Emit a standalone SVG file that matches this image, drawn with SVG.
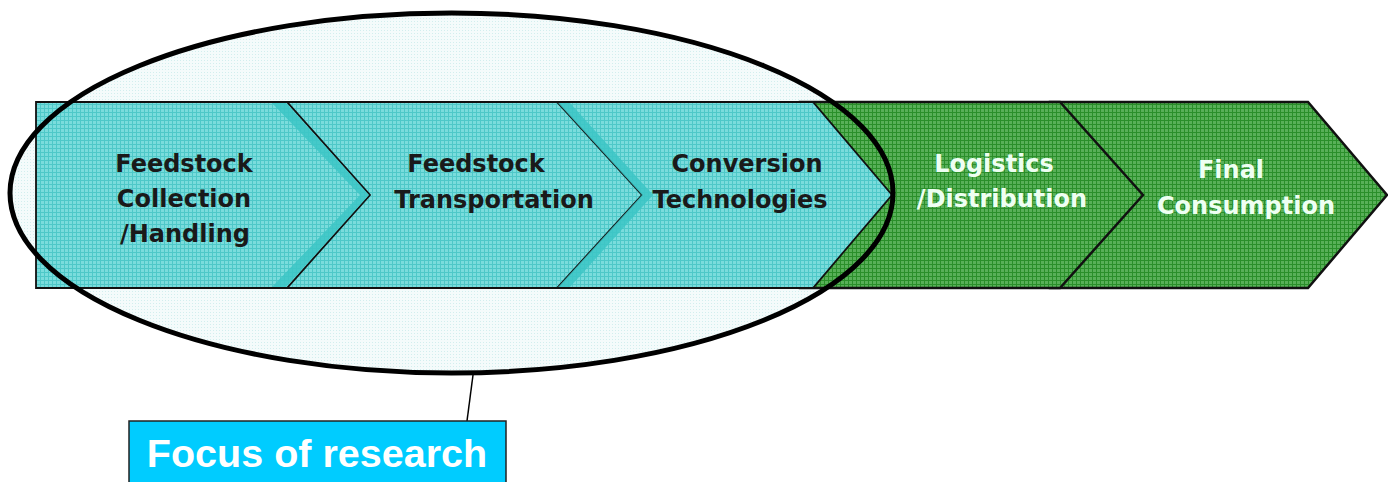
<svg xmlns="http://www.w3.org/2000/svg" width="1388" height="482" viewBox="0 0 1388 482">
<defs>
<pattern id="tealPat" width="4" height="4" patternUnits="userSpaceOnUse">
<rect width="4" height="4" fill="#7adcdc"/>
<path d="M0 0.5H4M0.5 0V4" stroke="#4ec8c8" stroke-width="1"/>
</pattern>
<pattern id="greenPat" width="4" height="4" patternUnits="userSpaceOnUse">
<rect width="4" height="4" fill="#58b058"/>
<path d="M0 0.5H4M0.5 0V4" stroke="#2a8f2a" stroke-width="1"/>
</pattern>
<pattern id="palePat" width="3" height="3" patternUnits="userSpaceOnUse">
<rect width="3" height="3" fill="#f4fbfb"/>
<rect width="1" height="1" fill="#d2eeee"/>
</pattern>
</defs>
<style>
.teal{fill:url(#tealPat);stroke:#111;stroke-width:1.8;stroke-linejoin:miter}
.green{fill:url(#greenPat);stroke:#111;stroke-width:2.5;stroke-linejoin:miter}
.stripe{fill:#3cc6c6;opacity:0.85}
.lbl{font-family:"DejaVu Sans",Verdana,sans-serif;font-weight:bold;font-size:24px;text-anchor:middle}
.dark{fill:#1a1a1a}
.light{fill:#eefff2}
</style>
<rect width="1388" height="482" fill="#ffffff"/>
<ellipse id="focus-area-fill" cx="451.5" cy="193" rx="441.5" ry="180" fill="url(#palePat)"/>
<g id="final-consumption">
<polygon class="green" points="1050,102 1308,102 1387,195 1308,288 1050,288"/>
<text class="lbl light" x="1231" y="178">Final</text>
<text class="lbl light" x="1246" y="214">Consumption</text>
</g>
<g id="logistics-distribution">
<polygon class="green" points="800,102 1060,102 1143,195 1060,288 800,288"/>
<text class="lbl light" x="994" y="172">Logistics</text>
<text class="lbl light" x="1002" y="207">/Distribution</text>
</g>
<g id="conversion-technologies">
<polygon class="teal" points="540,102 813,102 892,195 813,288 540,288"/>
<text class="lbl dark" x="747" y="172">Conversion</text>
<text class="lbl dark" x="740" y="208">Technologies</text>
</g>
<g id="feedstock-transportation">
<polygon class="teal" points="270,102 557,102 642,195 557,288 270,288"/>
<polygon class="stripe" points="558,103 570,103 653,195 570,287 558,287 642,195"/>
<text class="lbl dark" x="476" y="172">Feedstock</text>
<text class="lbl dark" x="494" y="208">Transportation</text>
</g>
<g id="feedstock-collection">
<polygon class="teal" points="36,102 287,102 370,195 287,288 36,288"/>
<polygon class="stripe" points="272,103 286,103 369,195 286,287 272,287 360,195"/>
<text class="lbl dark" x="184" y="172">Feedstock</text>
<text class="lbl dark" x="184" y="207">Collection</text>
<text class="lbl dark" x="185" y="242">/Handling</text>
</g>
<g id="focus-area">
<ellipse cx="451.5" cy="193" rx="441.5" ry="180" fill="none" stroke="#000" stroke-width="5"/>
</g>
<g id="connectors">
<line x1="473" y1="375" x2="467" y2="421" stroke="#000" stroke-width="1.5"/>
</g>
<g id="focus-of-research">
<rect x="129" y="421" width="377" height="66" fill="#00ccff" stroke="#222" stroke-width="1.5"/>
<text x="317" y="467" font-family="Liberation Sans, Arial, sans-serif" font-weight="bold" font-size="39.5" fill="#ffffff" text-anchor="middle">Focus of research</text>
</g>
</svg>
